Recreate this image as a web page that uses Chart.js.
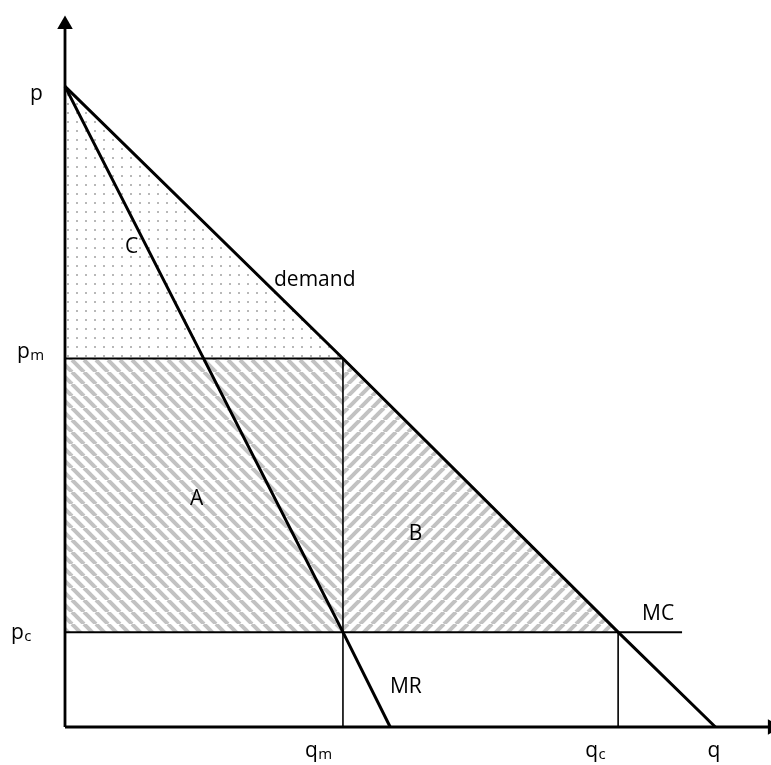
<!DOCTYPE html>
<html>
<head>
<meta charset="utf-8">
<script src="https://cdn.jsdelivr.net/npm/chart.js@4/dist/chart.umd.min.js"></script>
<style>
  body { margin: 0; background: #fff; }
  #wrap { width: 771px; height: 765px; position: relative; }
</style>
</head>
<body>
<div id="wrap"><canvas id="chart"></canvas></div>
<script>
// values (q along x, price along y)
const p = 23.3;      // demand intercept
const pm = 13.4;     // monopoly price
const pc = 3.45;     // competitive price = MC
const qm = 10.0;     // monopoly quantity
const qc = 19.9;     // competitive quantity
const qd = 23.4;     // demand hits the q axis
const qmr = 11.7;    // MR hits the q axis
const mcEnd = 22.2;  // MC line stops here

const demandPts = [{x: 0, y: p}, {x: qm, y: pm}, {x: qc, y: pc}, {x: qd, y: 0}];
const mrPts = [{x: 0, y: p}, {x: qm, y: pc}, {x: qmr, y: 0}];
const mcPts = [{x: 0, y: pc}, {x: mcEnd, y: pc}];

const yTickValues = [p, pm, pc];
const yTickText = ['p', 'p_m', 'p_c'];
const xTickValues = [qm, qc, qd];
const xTickText = ['q_m', 'q_c', 'q'];

const xMax = 25.4;
const yMax = 26.44;
const xArrow = 25.45;
const yArrow = 25.55;

// fill patterns
function hatch(dir) {
  const s = 12;
  const c = document.createElement('canvas');
  c.width = s; c.height = s;
  const g = c.getContext('2d');
  g.strokeStyle = '#c2c2c2';
  g.lineWidth = 4;
  for (let k = -1; k <= 1; k++) {
    g.beginPath();
    if (dir == 'back') {
      g.moveTo(k * s, 0); g.lineTo(k * s + s, s);
    } else {
      g.moveTo(k * s, s); g.lineTo(k * s + s, 0);
    }
    g.stroke();
  }
  return g.createPattern(c, 'repeat');
}
function dots() {
  const s = 9;
  const c = document.createElement('canvas');
  c.width = s; c.height = s;
  const g = c.getContext('2d');
  g.fillStyle = '#b8b8b8';
  g.fillRect(4, 4, 2, 2);
  return g.createPattern(c, 'repeat');
}

function line(data, width, extra) {
  return Object.assign({
    data: data, borderColor: '#000', borderWidth: width,
    pointRadius: 0, fill: false, tension: 0, order: 0, clip: false
  }, extra || {});
}
function area(data, base, pattern) {
  return {
    data: data, borderWidth: 0, borderColor: 'rgba(0,0,0,0)',
    backgroundColor: pattern, pointRadius: 0,
    fill: {value: base}, order: 10, tension: 0
  };
}

const labelFont = '"Open Sans", sans-serif';

function drawLabel(ctx, text, x, y) {
  const parts = text.split('_');
  ctx.font = '21px ' + labelFont;
  ctx.fillText(parts[0], x, y);
  if (parts[1]) {
    const w = ctx.measureText(parts[0]).width;
    ctx.font = '15px ' + labelFont;
    ctx.fillText(parts[1], x + w + 0.5, y + 2);
  }
}

const textPlugin = {
  id: 'texts',
  afterDraw(chart) {
    const ctx = chart.ctx;
    const xs = chart.scales.x, ys = chart.scales.y;
    ctx.save();
    ctx.fillStyle = '#000';
    ctx.textAlign = 'left';
    ctx.textBaseline = 'alphabetic';
    const yOff = [[-35, 14], [-48, -1], [-54, 7]];
    yTickValues.forEach((v, i) => {
      drawLabel(ctx, yTickText[i], xs.getPixelForValue(0) + yOff[i][0], ys.getPixelForValue(v) + yOff[i][1]);
    });
    const xOff = [-38, -33, -8];
    xTickValues.forEach((v, i) => {
      drawLabel(ctx, xTickText[i], xs.getPixelForValue(v) + xOff[i], ys.getPixelForValue(0) + 30);
    });
    const notes = [
      ['C', 2.16, 17.24], ['demand', 7.52, 16.04], ['A', 4.5, 8.07],
      ['B', 12.37, 6.8], ['MR', 11.69, 1.24], ['MC', 20.76, 3.89]
    ];
    notes.forEach(n => drawLabel(ctx, n[0], xs.getPixelForValue(n[1]), ys.getPixelForValue(n[2])));
    ctx.restore();
  }
};

new Chart(document.getElementById('chart'), {
  type: 'line',
  data: {
    datasets: [
      // axes with arrow heads
      line([{x: 0, y: 0}, {x: 0, y: yArrow}], 2.8, {
        pointRadius: [0, 9], pointStyle: 'triangle', pointBackgroundColor: '#000', pointBorderWidth: 0
      }),
      line([{x: 0, y: 0}, {x: xArrow, y: 0}], 2.8, {
        pointRadius: [0, 9], pointStyle: 'triangle', pointRotation: 90,
        pointBackgroundColor: '#000', pointBorderWidth: 0
      }),
      line(demandPts, 3),
      line(mrPts, 3),
      line(mcPts, 2),
      line([{x: 0, y: pm}, {x: qm, y: pm}], 2),
      line([{x: qm, y: pm}, {x: qm, y: 0}], 1.6),
      line([{x: qc, y: pc}, {x: qc, y: 0}], 1.6),
      // shaded regions
      area([{x: 0, y: p}, {x: qm, y: pm}], pm, dots()),
      area([{x: 0, y: pm}, {x: qm, y: pm}], pc, hatch('back')),
      area([{x: qm, y: pm}, {x: qc, y: pc}], pc, hatch('fwd'))
    ]
  },
  options: {
    responsive: true,
    maintainAspectRatio: false,
    animation: false,
    layout: { autoPadding: false, padding: { left: 65, right: 0, top: 0, bottom: 38 } },
    scales: {
      x: { type: 'linear', min: 0, max: xMax, display: false },
      y: { type: 'linear', min: 0, max: yMax, display: false }
    },
    plugins: { legend: { display: false }, tooltip: { enabled: false } }
  },
  plugins: [textPlugin]
});
</script>
</body>
</html>
